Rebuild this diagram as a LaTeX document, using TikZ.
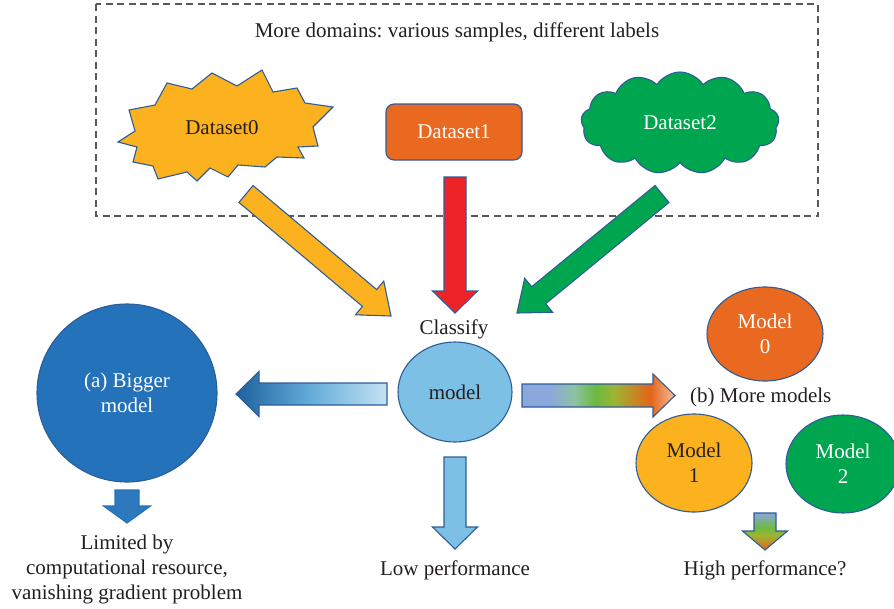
\documentclass[tikz,border=0pt]{standalone}
\usepackage{fontspec}
\setmainfont{Liberation Serif}
\usetikzlibrary{shapes.symbols,shapes.geometric,calc}
\definecolor{cyel}{HTML}{FBB21E}
\definecolor{corg}{HTML}{E8691F}
\definecolor{cgrn}{HTML}{00A54F}
\definecolor{cred}{HTML}{ED2427}
\definecolor{cbord}{HTML}{2E5C99}
\definecolor{clb}{HTML}{7CC0E5}
\definecolor{cdb}{HTML}{2372BA}
\definecolor{ctxt}{HTML}{231F20}
\definecolor{rA}{HTML}{8AA8DC}
\definecolor{rB}{HTML}{8EC2A4}
\definecolor{rC}{HTML}{6DB93F}
\definecolor{rD}{HTML}{9CB534}
\definecolor{rE}{HTML}{E4641A}
\definecolor{rF}{HTML}{F7BFA0}
\pgfdeclarehorizontalshading{rainbowh}{100bp}{color(0bp)=(rA); color(25bp)=(rA); color(34bp)=(rA); color(42bp)=(rB); color(49bp)=(rC); color(55bp)=(rD); color(67bp)=(rE); color(75bp)=(rF); color(100bp)=(rF)}
\pgfdeclareverticalshading{rainbowv}{100bp}{color(0bp)=(rE); color(25bp)=(rE); color(45bp)=(rD); color(55bp)=(rC); color(75bp)=(rA); color(100bp)=(rA)}
\newcommand\blockarrow[6]{%
  \coordinate (ba-b) at ($(#3)!#6!(#2)$);
  \path[#1] ($(#2)!#4!90:(#3)$) -- ($(ba-b)!#4!-90:(#2)$) -- ($(ba-b)!#5!-90:(#2)$) -- (#3)
     -- ($(ba-b)!#5!90:(#2)$) -- ($(ba-b)!#4!90:(#2)$) -- ($(#2)!#4!-90:(#3)$) -- cycle;}
\tikzset{
  lbl/.style={font=\fontsize{21}{25}\selectfont, text=ctxt, align=center, inner sep=0pt},
  shp/.style={draw=cbord, line width=1.1pt},
  oval/.style={ellipse, shp, inner sep=0pt, font=\fontsize{21}{25}\selectfont, align=center},
  arr/.style={draw=cbord, line width=1.1pt, line join=miter}
}
\begin{document}
\frenchspacing
\begin{tikzpicture}[x=1pt,y=-1pt]
\useasboundingbox (0,0) rectangle (894,608);
% dashed domain box
\draw[draw=black!65, line width=1.2pt, dash pattern=on 7pt off 4.5pt] (96,4) rectangle (818,216);
\node[lbl] (title) at (457,32) {More domains: various samples, different labels};
% Dataset0 starburst
\draw[shp, fill=cyel, line join=miter] (129,110) -- (155,105) -- (167,83) -- (192,89) -- (212,73) -- (237,86) -- (262,70)
  -- (273,92) -- (297,88) -- (305,103) -- (333,107) -- (313,127) -- (318,146) -- (298,147) -- (304,158)
  -- (277,157) -- (265,167) -- (238,165) -- (228,177) -- (210,168) -- (197,181) -- (187,172) -- (158,179)
  -- (153,166) -- (133,162) -- (137,147) -- (118,142) -- (135,131) -- cycle;
\node[lbl] (d0) at (222,128) {Dataset0};
% Dataset1
\node[shp, fill=corg, rounded corners=8pt, minimum width=136pt, minimum height=56pt, lbl, text=white] (d1) at (454,132) {Dataset1};
% Dataset2
\node[cloud, cloud puffs=13, cloud puff arc=115, aspect=2.0, shp, fill=cgrn, minimum width=198pt, minimum height=102pt, lbl, text=white] (d2) at (680,123) {Dataset2};
% dataset arrows
\coordinate (a0t) at (246,194); \coordinate (a0h) at (391,316);
\blockarrow{arr, fill=cyel}{a0t}{a0h}{11pt}{22pt}{28pt}
\coordinate (a1t) at (455,177); \coordinate (a1h) at (455,313);
\blockarrow{arr, fill=cred}{a1t}{a1h}{11pt}{22.5pt}{22pt}
\coordinate (a2t) at (662,194); \coordinate (a2h) at (517,313);
\blockarrow{arr, fill=cgrn}{a2t}{a2h}{11pt}{22pt}{28pt}
\node[lbl] (cls) at (454,329) {Classify};
% central model
\node[oval, fill=clb, minimum width=114pt, minimum height=100pt, text=ctxt] (model) at (455,392) {model};
% bigger model
\node[oval, fill=cdb, minimum width=180pt, minimum height=178pt, text=white] (big) at (127,393) {(a) Bigger\\model};
\coordinate (alt) at (387,394); \coordinate (alh) at (236,394);
\blockarrow{arr, left color=cdb!85!black, right color=clb!45!white, middle color=clb!75!cdb}{alt}{alh}{11pt}{22.5pt}{23pt}
\coordinate (abt) at (127,490); \coordinate (abh) at (127,523);
\blockarrow{arr, draw=cdb, fill=cdb!95!white}{abt}{abh}{12pt}{23.5pt}{17pt}
\node[lbl] (lim) at (127,569) {Limited by\\computational resource,\\vanishing gradient problem};
% low performance
\coordinate (adt) at (455,457); \coordinate (adh) at (455,549);
\blockarrow{arr, fill=clb}{adt}{adh}{11pt}{22.5pt}{22pt}
\node[lbl] (low) at (455,570) {Low performance};
% more models
\coordinate (art) at (522,395.5); \coordinate (arh) at (675,395.5);
\blockarrow{arr, shading=rainbowh}{art}{arh}{11.5pt}{21.5pt}{22pt}
\node[lbl, anchor=west] (more) at (690,397) {(b) More models};
\node[oval, fill=corg, minimum width=116pt, minimum height=94pt, text=white] (m0) at (765,334) {Model\\0};
\node[oval, fill=cyel, minimum width=116pt, minimum height=98pt, text=ctxt] (m1) at (694,463) {Model\\1};
\node[oval, fill=cgrn, minimum width=114pt, minimum height=98pt, text=white] (m2) at (843,464) {Model\\2};
\coordinate (agt) at (765,513); \coordinate (agh) at (765,550);
\blockarrow{arr, shading=rainbowv}{agt}{agh}{11pt}{22.5pt}{19pt}
\node[lbl] (high) at (765,570) {High performance?};
\end{tikzpicture}
\end{document}
